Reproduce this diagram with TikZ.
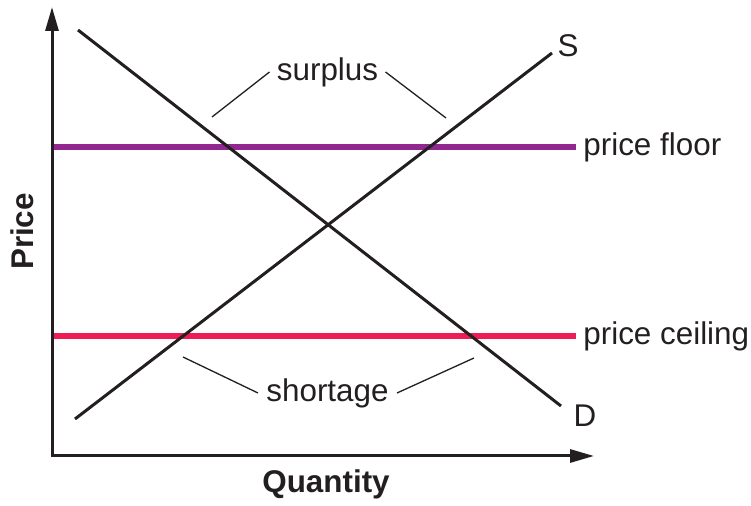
\documentclass[tikz,border=0pt]{standalone}
\usepackage{fontspec}
\setmainfont{Liberation Sans}
\definecolor{ink}{RGB}{35, 31, 32}
\definecolor{purple1}{RGB}{146, 39, 143}
\definecolor{red1}{RGB}{237, 28, 84}
\usetikzlibrary{arrows.meta}

\begin{document}
\begin{tikzpicture}[
  x=0.5pt, y=-0.5pt,
  axis/.style={draw=ink, line width=1.5pt, {Triangle[length=12pt, width=6.5pt]}-{Triangle[length=12pt, width=6.5pt]}},
  curve/.style={draw=ink, line width=1.5pt},
  level/.style={line width=2.6pt},
  leader/.style={draw=ink, line width=0.65pt},
  lbl/.style={text=ink, font=\fontsize{15.7}{19}\selectfont, inner sep=3.5pt},
  axlbl/.style={text=ink, font=\fontsize{15.7}{19}\selectfont\bfseries, inner sep=0pt}
]
  \useasboundingbox (0,0) rectangle (751,506);

  \coordinate (origin) at (52,456);
  \coordinate (ytop) at (52,7);
  \coordinate (xend) at (594,456);

  % price controls
  \node[lbl, anchor=west] (floorlbl) at (576,147) {price floor};
  \node[lbl, anchor=west] (ceillbl) at (576,336) {price ceiling};
  \draw[level, purple1] (origin |- floorlbl.west) -- (floorlbl.west);
  \draw[level, red1] (origin |- ceillbl.west) -- (ceillbl.west);

  % supply and demand
  \coordinate (s0) at (75,419);
  \coordinate (s1) at (552,53);
  \coordinate (d0) at (78,30);
  \coordinate (d1) at (561,406);
  \draw[curve] (s0) -- (s1);
  \draw[curve] (d0) -- (d1);
  \node[lbl] (slbl) at (568,46) {S};
  \node[lbl] (dlbl) at (585,416) {D};

  \draw[axis] (ytop) -- (origin) -- (xend);
  \node[axlbl] (qlbl) at (326,484) {Quantity};
  \node[axlbl, rotate=90] (plbl) at (22.5,231.5) {Price};

  % gaps
  \node[lbl] (surplus) at (327.5,72) {surplus};
  \coordinate (surL) at (212,117);
  \coordinate (surR) at (446,118);
  \draw[leader] (surL) -- (surplus.west);
  \draw[leader] (surplus.east) -- (surR);

  \node[lbl, inner sep=4pt] (shortage) at (327.5,393) {shortage};
  \coordinate (shoL) at (183,357);
  \coordinate (shoR) at (474,358);
  \draw[leader] (shoL) -- (shortage.west);
  \draw[leader] (shortage.east) -- (shoR);
\end{tikzpicture}
\end{document}
